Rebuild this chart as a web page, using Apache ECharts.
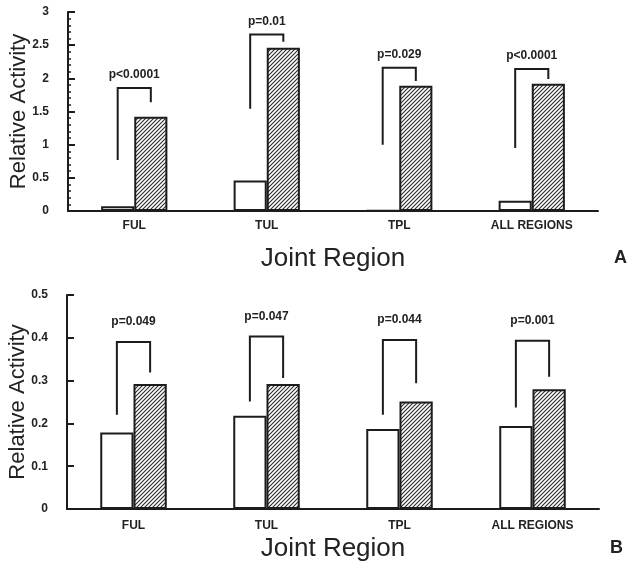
<!DOCTYPE html>
<html>
<head>
<meta charset="utf-8">
<script src="https://cdn.jsdelivr.net/npm/echarts@6/dist/echarts.min.js"></script>
<style>
html,body{margin:0;padding:0;background:#fff;}
#c{width:628px;height:570px;}
</style>
</head>
<body>
<div id="c"></div>
<script>
// ---- data ----
var categories = ['FUL', 'TUL', 'TPL', 'ALL REGIONS'];
var whiteA = [0.07, 0.46, 0.01, 0.155];
var hatchA = [1.42, 2.46, 1.89, 1.92];
var whiteB = [0.179, 0.218, 0.187, 0.194];
var hatchB = [0.292, 0.292, 0.251, 0.280];
// brackets: [left leg bottom, top, right leg bottom]
var bracketA = [[0.77, 1.855, 1.64], [1.54, 2.66, 2.55], [1.00, 2.16, 1.96], [0.95, 2.14, 1.99]];
var bracketB = [[0.220, 0.390, 0.319], [0.251, 0.403, 0.306], [0.220, 0.395, 0.294], [0.237, 0.393, 0.309]];
var pLabelsA = ['p<0.0001', 'p=0.01', 'p=0.029', 'p<0.0001'];
var pLabelsB = ['p=0.049', 'p=0.047', 'p=0.044', 'p=0.001'];
var yTicksA = [0, 0.5, 1, 1.5, 2, 2.5, 3];
var yTicksB = [0, 0.1, 0.2, 0.3, 0.4, 0.5];

// ---- styling ----
var INK = '#1c1c1c';
var FONT = '"Liberation Sans", Arial, Helvetica, sans-serif';

function hatchCanvas() {
  var c = document.createElement('canvas');
  c.width = 4; c.height = 4;
  var g = c.getContext('2d');
  g.fillStyle = '#ffffff';
  g.fillRect(0, 0, 4, 4);
  g.strokeStyle = '#2a2a2a';
  g.lineWidth = 1.1;
  g.beginPath();
  g.moveTo(-1, 5); g.lineTo(5, -1);
  g.moveTo(-3, 3); g.lineTo(3, -3);
  g.moveTo(1, 7); g.lineTo(7, 1);
  g.stroke();
  return c;
}
var hatchFill = { image: hatchCanvas(), repeat: 'repeat' };

function bracketRender(labels, offset) {
  return function (params, api) {
    var i = api.value(0);
    var l = api.coord([i, api.value(1)]);
    var t = api.coord([i, api.value(2)]);
    var r = api.coord([i, api.value(3)]);
    var band = api.size([1, 0])[0];
    var bw = band * 0.25;
    var xl = l[0] - bw / 2, xr = l[0] + bw / 2;
    return {
      type: 'group',
      children: [
        { type: 'polyline', shape: { points: [[xl, l[1]], [xl, t[1]], [xr, t[1]], [xr, r[1]]] },
          style: { stroke: INK, lineWidth: 2, fill: null } },
        { type: 'text', style: { text: labels[i], x: (xl + xr) / 2, y: t[1] - offset,
          align: 'center', verticalAlign: 'middle', font: 'bold 12px ' + FONT, fill: '#222' } }
      ]
    };
  };
}

function xAxisCfg(gridIndex, nameGap, labelMargin) {
  return {
    type: 'category', gridIndex: gridIndex, data: categories,
    axisLine: { lineStyle: { color: INK, width: 2 } },
    axisTick: { inside: true, length: 4, lineStyle: { color: INK, width: 1.5 } },
    axisLabel: { color: '#222', fontFamily: FONT, fontWeight: 'bold', fontSize: 12, margin: labelMargin },
    name: 'Joint Region', nameLocation: 'middle', nameGap: nameGap, nameMoveOverlap: false,
    nameTextStyle: { color: '#222', fontFamily: FONT, fontSize: 26 },
    splitLine: { show: false }
  };
}
function yAxisCfg(gridIndex, ticks, minor) {
  return {
    type: 'value', gridIndex: gridIndex,
    min: ticks[0], max: ticks[ticks.length - 1], interval: ticks[1] - ticks[0],
    axisLine: { show: true, lineStyle: { color: INK, width: 2 } },
    axisTick: { show: true, inside: true, length: 7, lineStyle: { color: INK, width: 2 } },
    minorTick: { show: minor, splitNumber: 5, length: 3, lineStyle: { color: INK, width: 1.5 } },
    axisLabel: { color: '#222', fontFamily: FONT, fontWeight: 'bold', fontSize: 12, margin: 19,
      formatter: function (v) { return String(+v.toFixed(2)); } },
    splitLine: { show: false },
    name: 'Relative Activity', nameLocation: 'middle', nameGap: 38, nameMoveOverlap: false,
    nameTextStyle: { color: '#222', fontFamily: FONT, fontSize: 22 }
  };
}

var chart = echarts.init(document.getElementById('c'), null, { renderer: 'canvas' });
chart.setOption({
  backgroundColor: '#ffffff',
  animation: false,
  title: [
    { text: 'A', left: 609, top: 244, textStyle: { fontFamily: FONT, fontWeight: 'bold', fontSize: 18, color: '#222' } },
    { text: 'B', left: 605, top: 534, textStyle: { fontFamily: FONT, fontWeight: 'bold', fontSize: 18, color: '#222' } }
  ],
  grid: [
    { left: 68, right: 30, top: 12, height: 199, outerBoundsMode: 'none', containLabel: false },
    { left: 67, right: 29, top: 295, height: 214, outerBoundsMode: 'none', containLabel: false }
  ],
  xAxis: [xAxisCfg(0, 35, 9), xAxisCfg(1, 27, 11)],
  yAxis: [yAxisCfg(0, yTicksA, true), yAxisCfg(1, yTicksB, false)],
  series: [
    { type: 'bar', xAxisIndex: 0, yAxisIndex: 0, data: whiteA, barWidth: '25%', barGap: '0%',
      itemStyle: { color: '#ffffff', borderColor: INK, borderWidth: 2 } },
    { type: 'bar', xAxisIndex: 0, yAxisIndex: 0, data: hatchA, barWidth: '25%', barGap: '0%',
      itemStyle: { color: hatchFill, borderColor: INK, borderWidth: 2 } },
    { type: 'bar', xAxisIndex: 1, yAxisIndex: 1, data: whiteB, barWidth: '25%', barGap: '0%',
      itemStyle: { color: '#ffffff', borderColor: INK, borderWidth: 2 } },
    { type: 'bar', xAxisIndex: 1, yAxisIndex: 1, data: hatchB, barWidth: '25%', barGap: '0%',
      itemStyle: { color: hatchFill, borderColor: INK, borderWidth: 2 } },
    { type: 'custom', xAxisIndex: 0, yAxisIndex: 0, z: 5, renderItem: bracketRender(pLabelsA, 13),
      encode: { x: 0, y: [1, 2, 3] },
      data: bracketA.map(function (b, i) { return [i, b[0], b[1], b[2]]; }) },
    { type: 'custom', xAxisIndex: 1, yAxisIndex: 1, z: 5, renderItem: bracketRender(pLabelsB, 20),
      encode: { x: 0, y: [1, 2, 3] },
      data: bracketB.map(function (b, i) { return [i, b[0], b[1], b[2]]; }) }
  ]
});
</script>
</body>
</html>
